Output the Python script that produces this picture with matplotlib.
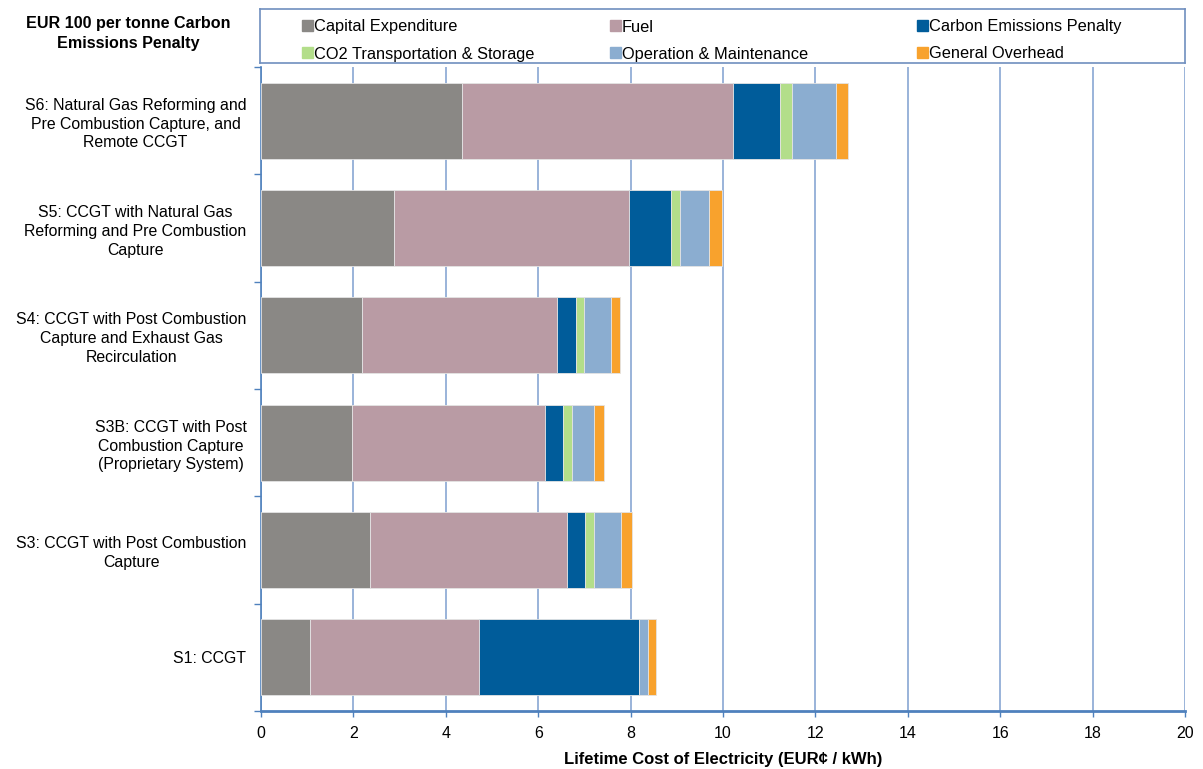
import matplotlib
matplotlib.use("Agg")
import matplotlib.pyplot as plt
from matplotlib.patches import Rectangle
import numpy as np

plt.rcParams['font.family'] = ['Liberation Sans', 'DejaVu Sans']

categories = [
    "S1: CCGT",
    "S3: CCGT with Post Combustion\nCapture",
    "S3B: CCGT with Post\nCombustion Capture\n(Proprietary System)",
    "S4: CCGT with Post Combustion\nCapture and Exhaust Gas\nRecirculation",
    "S5: CCGT with Natural Gas\nReforming and Pre Combustion\nCapture",
    "S6: Natural Gas Reforming and\nPre Combustion Capture, and\nRemote CCGT",
]
series_names = ["Capital Expenditure", "Fuel", "Carbon Emissions Penalty",
                "CO2 Transportation & Storage", "Operation & Maintenance", "General Overhead"]
capital = [1.05, 2.37, 1.97, 2.19, 2.88, 4.36]
fuel = [3.66, 4.26, 4.18, 4.22, 5.09, 5.85]
carbon = [3.48, 0.39, 0.38, 0.41, 0.91, 1.03]
co2_ts = [0.00, 0.19, 0.21, 0.18, 0.18, 0.26]
om = [0.19, 0.59, 0.46, 0.57, 0.64, 0.95]
overhead = [0.17, 0.24, 0.23, 0.21, 0.27, 0.26]
xticks = [0, 2, 4, 6, 8, 10, 12, 14, 16, 18, 20]

colors = ["#8A8885", "#B99BA4", "#005C9A", "#B3DE8A", "#8BADD0", "#F8A22D"]
series = [capital, fuel, carbon, co2_ts, om, overhead]

W, H = 1203, 769
fig = plt.figure(figsize=(W / 100, H / 100), dpi=100)
ax = fig.add_axes([261 / W, 1 - 711 / H, (1185 - 261) / W, (711 - 67) / H])

y = np.arange(len(categories))
left = np.zeros(len(categories))
for vals, col, name in zip(series, colors, series_names):
    ax.barh(y, vals, left=left, height=0.71, color=col, edgecolor="#E4E4E4",
            linewidth=0.6, label=name, zorder=3)
    left += np.array(vals)

ax.set_xlim(0, 20)
ax.set_ylim(-0.5, len(categories) - 0.5)
ax.set_xticks(xticks)
ax.set_xticklabels([str(t) for t in xticks], fontsize=11.5)
ax.xaxis.grid(True, color="#7F9FCF", linewidth=1.1, zorder=0)
ax.set_yticks(y)
ax.set_yticklabels(categories, fontsize=11.4, multialignment="center", linespacing=1.32)
ax.set_yticks(np.arange(-0.5, len(categories), 1.0), minor=True)
ax.tick_params(axis="y", which="major", length=0, pad=10.5)
ax.tick_params(axis="y", which="minor", length=5, color="#4F81BD", width=1)
ax.tick_params(axis="x", length=4, color="#4F81BD", width=1, pad=7)
for s in ["top", "right"]:
    ax.spines[s].set_visible(False)
ax.spines["left"].set_color("#4F81BD")
ax.spines["left"].set_linewidth(1.2)
ax.spines["bottom"].set_color("#4F81BD")
ax.spines["bottom"].set_linewidth(2.0)
ax.set_xlabel("Lifetime Cost of Electricity (EUR\u00a2 / kWh)", fontsize=12,
              fontweight="bold", labelpad=8)

fig.text(128 / W, 1 - 33.5 / H, "EUR 100 per tonne Carbon\nEmissions Penalty",
         ha="center", va="center", fontsize=11.6, fontweight="bold", linespacing=1.35)

# legend box
lax = fig.add_axes([260 / W, 1 - 63 / H, (1185 - 260) / W, (63 - 9) / H])
lax.set_xlim(260, 1185)
lax.set_ylim(63, 9)
lax.set_xticks([])
lax.set_yticks([])
for s in lax.spines.values():
    s.set_color("#6F8FBF")
    s.set_linewidth(1.2)
pos = [(302, 25), (610, 25), (917, 25), (302, 52), (610, 52), (917, 52)]
for (px, py), col, name in zip(pos, colors, series_names):
    lax.add_patch(Rectangle((px, py - 5.5), 11, 11, color=col))
    lax.text(px + 12, py + 0.5, name, va="center_baseline", ha="left", fontsize=11.8)

fig.savefig("out.png", dpi=100)
